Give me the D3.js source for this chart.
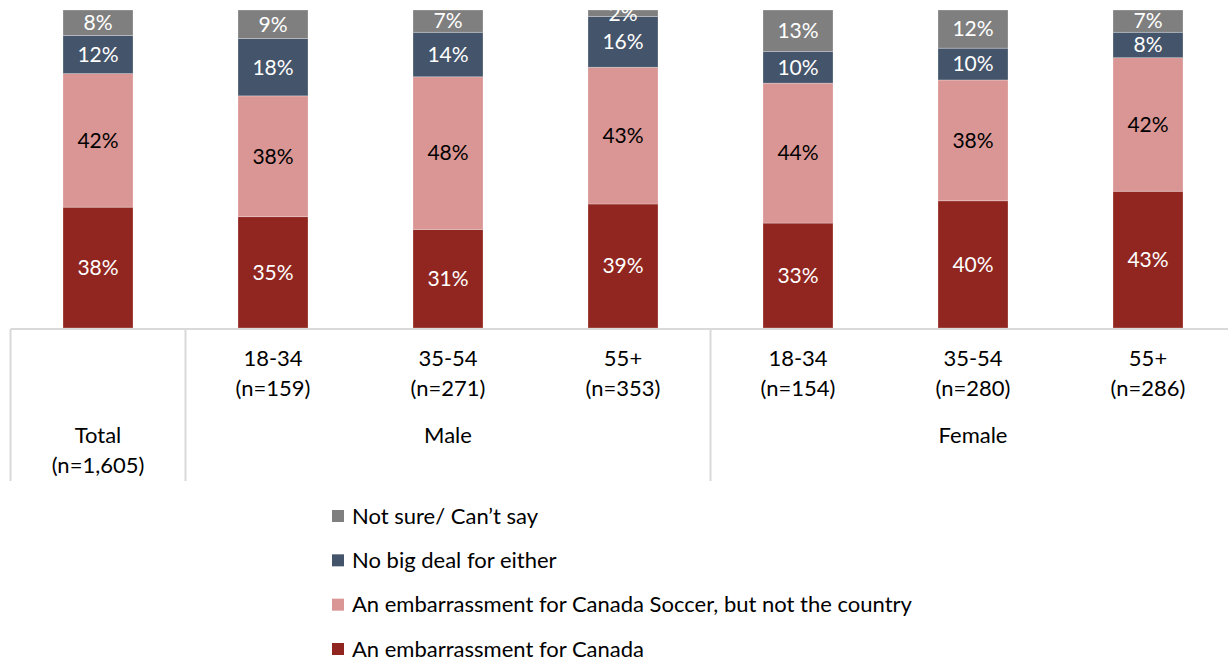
<!DOCTYPE html>
<html>
<head>
<meta charset="utf-8">
<script src="https://cdn.jsdelivr.net/npm/d3@7"></script>
<style>
  html, body { margin: 0; padding: 0; background: #fff; }
  svg { display: block; font-family: Lato, "Open Sans", sans-serif; }
</style>
</head>
<body>
<svg id="chart" width="1228" height="662"></svg>
<script>
// Groups along the x axis
const ageLabels = ["", "18-34", "35-54", "55+", "18-34", "35-54", "55+"];
const sampleLabels = ["", "(n=159)", "(n=271)", "(n=353)", "(n=154)", "(n=280)", "(n=286)"];
const bars = ["Total", "M 18-34", "M 35-54", "M 55+", "F 18-34", "F 35-54", "F 55+"];

// Response shares (%), stacked bottom to top
const seriesNames = [
  "An embarrassment for Canada",
  "An embarrassment for Canada Soccer, but not the country",
  "No big deal for either",
  "Not sure/ Can\u2019t say"
];
const embarrassCanada = [38, 35, 31, 39, 33, 40, 43];
const embarrassSoccer = [42, 38, 48, 43, 44, 38, 42];
const noBigDeal       = [12, 18, 14, 16, 10, 10, 8];
const notSure         = [8, 9, 7, 2, 13, 12, 7];

const seriesColors = ["#912620", "#da9694", "#44546a", "#7f7f7f"];
const labelColors  = ["#ffffff", "#000000", "#ffffff", "#ffffff"];

// Group labels spanning several bars
const groups = [
  { name: "Total", sub: "(n=1,605)", from: 0, to: 0 },
  { name: "Male", sub: "", from: 1, to: 3 },
  { name: "Female", sub: "", from: 4, to: 6 }
];

const seriesValues = [embarrassCanada, embarrassSoccer, noBigDeal, notSure];
const rows = bars.map((b, i) => {
  const r = { bar: b };
  seriesNames.forEach((s, k) => r[s] = seriesValues[k][i]);
  return r;
});
const stacked = d3.stack().keys(seriesNames)(rows);

const svg = d3.select("#chart");
const plotTop = 10, plotBottom = 328;

const x = d3.scaleBand().domain(bars).range([10.5, 1235.5]).paddingInner(0.6).paddingOuter(0.3);
const y = d3.scaleLinear().domain([0, 100]).range([plotBottom, plotTop]);

svg.append("defs").append("clipPath").attr("id", "plotClip")
  .append("rect").attr("x", 0).attr("y", plotTop).attr("width", 1228).attr("height", plotBottom - plotTop);

// Stacked bars
const layers = svg.append("g").selectAll("g").data(stacked).join("g")
  .attr("fill", (d, i) => seriesColors[i]);
layers.selectAll("rect").data(d => d).join("rect")
  .attr("x", d => x(d.data.bar))
  .attr("width", x.bandwidth())
  .attr("y", d => y(d[1]))
  .attr("height", d => y(d[0]) - y(d[1]))
  .attr("stroke", "#ffffff")
  .attr("stroke-opacity", 0.35)
  .attr("stroke-width", 0.75);

// Value labels
const labelG = svg.append("g").attr("clip-path", "url(#plotClip)")
  .attr("font-size", 21).attr("text-anchor", "middle");
stacked.forEach((layer, k) => {
  labelG.selectAll(null).data(layer).join("text")
    .attr("x", d => x(d.data.bar) + x.bandwidth() / 2)
    .attr("y", d => (y(d[0]) + y(d[1])) / 2)
    .attr("dy", "0.35em")
    .attr("fill", labelColors[k])
    .text(d => (d[1] - d[0]) + "%");
});

// Category axis: baseline and group dividers
const step = x.step();
const edge = i => x(bars[i]) - (step - x.bandwidth()) / 2;
const axisG = svg.append("g").attr("stroke", "#d9d9d9").attr("stroke-width", 2);
axisG.append("line").attr("x1", edge(0)).attr("x2", 1228).attr("y1", plotBottom + 1).attr("y2", plotBottom + 1);
groups.forEach(g => {
  axisG.append("line")
    .attr("x1", edge(g.from)).attr("x2", edge(g.from))
    .attr("y1", plotBottom + 1).attr("y2", 481);
});

const textG = svg.append("g").attr("font-size", 22).attr("text-anchor", "middle").attr("fill", "#000");
bars.forEach((b, i) => {
  const cx = x(b) + x.bandwidth() / 2;
  if (ageLabels[i]) {
    textG.append("text").attr("x", cx).attr("y", 358).attr("dy", "0.35em").text(ageLabels[i]);
    textG.append("text").attr("x", cx).attr("y", 388).attr("dy", "0.35em").text(sampleLabels[i]);
  }
});
groups.forEach(g => {
  const cx = (x(bars[g.from]) + x(bars[g.to]) + x.bandwidth()) / 2;
  textG.append("text").attr("x", cx).attr("y", 435).attr("dy", "0.35em").text(g.name);
  if (g.sub) textG.append("text").attr("x", cx).attr("y", 465).attr("dy", "0.35em").text(g.sub);
});

// Legend (top entry is the top of the stack)
const legendOrder = [3, 2, 1, 0];
const legendY = d3.scalePoint().domain(legendOrder.map(String)).range([516, 649]);
const legend = svg.append("g").attr("font-size", 22);
legendOrder.forEach(k => {
  const ly = legendY(String(k));
  legend.append("rect").attr("x", 332).attr("y", ly - 6).attr("width", 12).attr("height", 12)
    .attr("fill", seriesColors[k]);
  legend.append("text").attr("x", 352).attr("y", ly).attr("dy", "0.35em").attr("fill", "#000")
    .text(seriesNames[k]);
});
</script>
</body>
</html>
